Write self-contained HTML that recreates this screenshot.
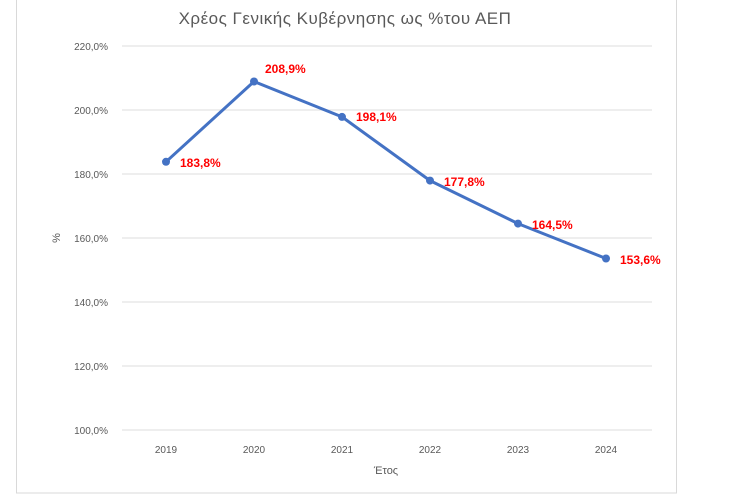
<!DOCTYPE html>
<html><head><meta charset="utf-8"><style>
body{margin:0;background:#fff;width:748px;height:498px;overflow:hidden}
svg{display:block}
</style></head><body>
<svg width="748" height="498" xmlns="http://www.w3.org/2000/svg" font-family="Liberation Sans, DejaVu Sans, sans-serif">
<rect x="16.5" y="-5" width="660" height="498" fill="#fff" stroke="#d9d9d9"/>
<text x="345" y="24" text-anchor="middle" font-size="17" fill="#595959" letter-spacing="0.5">Χρέος Γενικής Κυβέρνησης ως %του ΑΕΠ</text>
<g stroke="#e3e3e3" stroke-width="1.2">
<line x1="122" x2="652" y1="46" y2="46"/><line x1="122" x2="652" y1="110" y2="110"/>
<line x1="122" x2="652" y1="174" y2="174"/><line x1="122" x2="652" y1="238" y2="238"/>
<line x1="122" x2="652" y1="302" y2="302"/><line x1="122" x2="652" y1="366" y2="366"/>
<line x1="122" x2="652" y1="430" y2="430"/>
</g>
<g font-size="10" fill="#595959" text-anchor="end">
<text x="108" y="50">220,0%</text><text x="108" y="114">200,0%</text>
<text x="108" y="178">180,0%</text><text x="108" y="242">160,0%</text>
<text x="108" y="306">140,0%</text><text x="108" y="370">120,0%</text>
<text x="108" y="434">100,0%</text>
</g>
<g font-size="10" fill="#595959" text-anchor="middle">
<text x="166" y="453">2019</text><text x="254" y="453">2020</text><text x="342" y="453">2021</text>
<text x="430" y="453">2022</text><text x="518" y="453">2023</text><text x="606" y="453">2024</text>
<text x="386" y="474" font-size="11">Έτος</text>
</g>
<text x="60" y="238" font-size="11" fill="#595959" text-anchor="middle" transform="rotate(-90 60 238)">%</text>
<polyline fill="none" stroke="#4472c4" stroke-width="3" stroke-linejoin="round" points="166,161.8 254,81.5 342,116.9 430,180.6 518,223.6 606,258.5"/>
<g fill="#4472c4">
<circle cx="166" cy="161.8" r="4"/><circle cx="254" cy="81.5" r="4"/><circle cx="342" cy="116.9" r="4"/>
<circle cx="430" cy="180.6" r="4"/><circle cx="518" cy="223.6" r="4"/><circle cx="606" cy="258.5" r="4"/>
</g>
<g font-size="12" font-weight="bold" fill="#ff0000">
<text x="180" y="167">183,8%</text><text x="265" y="73">208,9%</text><text x="356" y="121">198,1%</text>
<text x="444" y="186">177,8%</text><text x="532" y="229">164,5%</text><text x="620" y="264">153,6%</text>
</g>
</svg>
</body></html>
